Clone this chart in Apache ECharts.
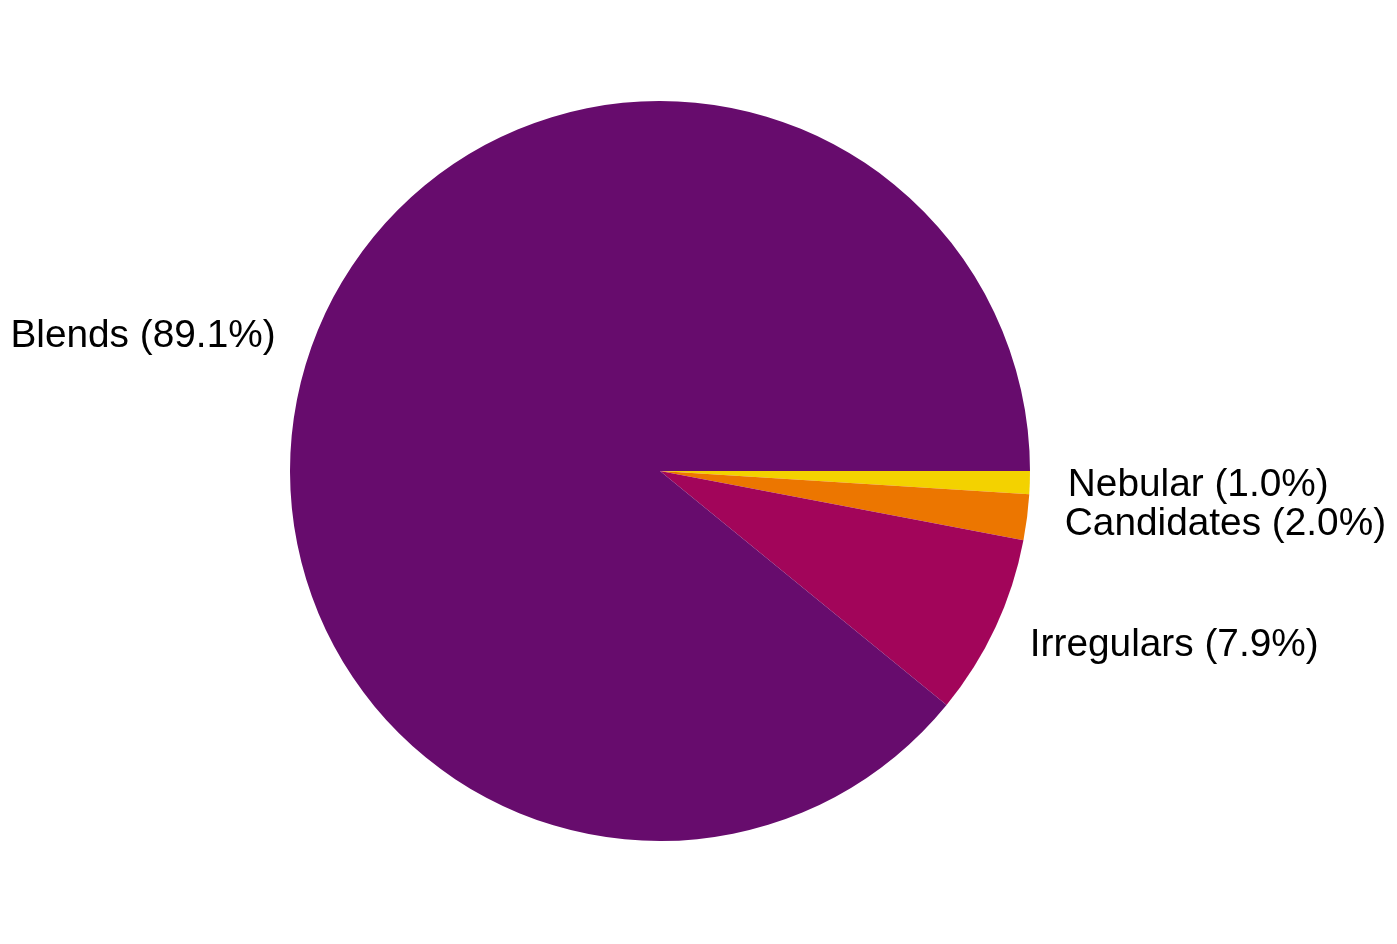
<!DOCTYPE html>
<html>
<head>
<meta charset="utf-8">
<script src="https://cdn.jsdelivr.net/npm/echarts@6/dist/echarts.min.js"></script>
<style>
  html, body { margin: 0; padding: 0; background: #fff; }
  #chart { width: 1397px; height: 944px; }
</style>
</head>
<body>
<div id="chart"></div>
<script>
// categories in drawing order (clockwise from 3 o'clock)
var categories = ['Nebular', 'Candidates', 'Irregulars', 'Blends'];
var shares = [1.0, 2.0, 7.9, 89.1];
var sliceColors = ['#f3d200', '#ec7600', '#a2055a', '#670c6d'];

var myChart = echarts.init(document.getElementById('chart'));

var pieData = categories.map(function (name, i) {
    return { name: name, value: shares[i], itemStyle: { color: sliceColors[i] } };
});

var R = 370;

var option = {
    animation: false,
    series: [
        {
            type: 'pie',
            center: [660, 471],
            radius: R,
            startAngle: 0,
            clockwise: true,
            avoidLabelOverlap: false,
            itemStyle: { borderWidth: 0 },
            emphasis: { disabled: true },
            label: {
                show: true,
                position: 'outside',
                distanceToLabelLine: 1,
                fontFamily: 'Liberation Sans',
                fontSize: 38.8,
                color: '#000',
                formatter: function (p) {
                    return p.name + ' (' + p.value.toFixed(1) + '%)';
                }
            },
            labelLayout: { hideOverlap: false, dy: 2 },
            labelLine: { show: false, length: R * 0.1, length2: 0 },
            data: pieData
        }
    ]
};

myChart.setOption(option);
</script>
</body>
</html>
